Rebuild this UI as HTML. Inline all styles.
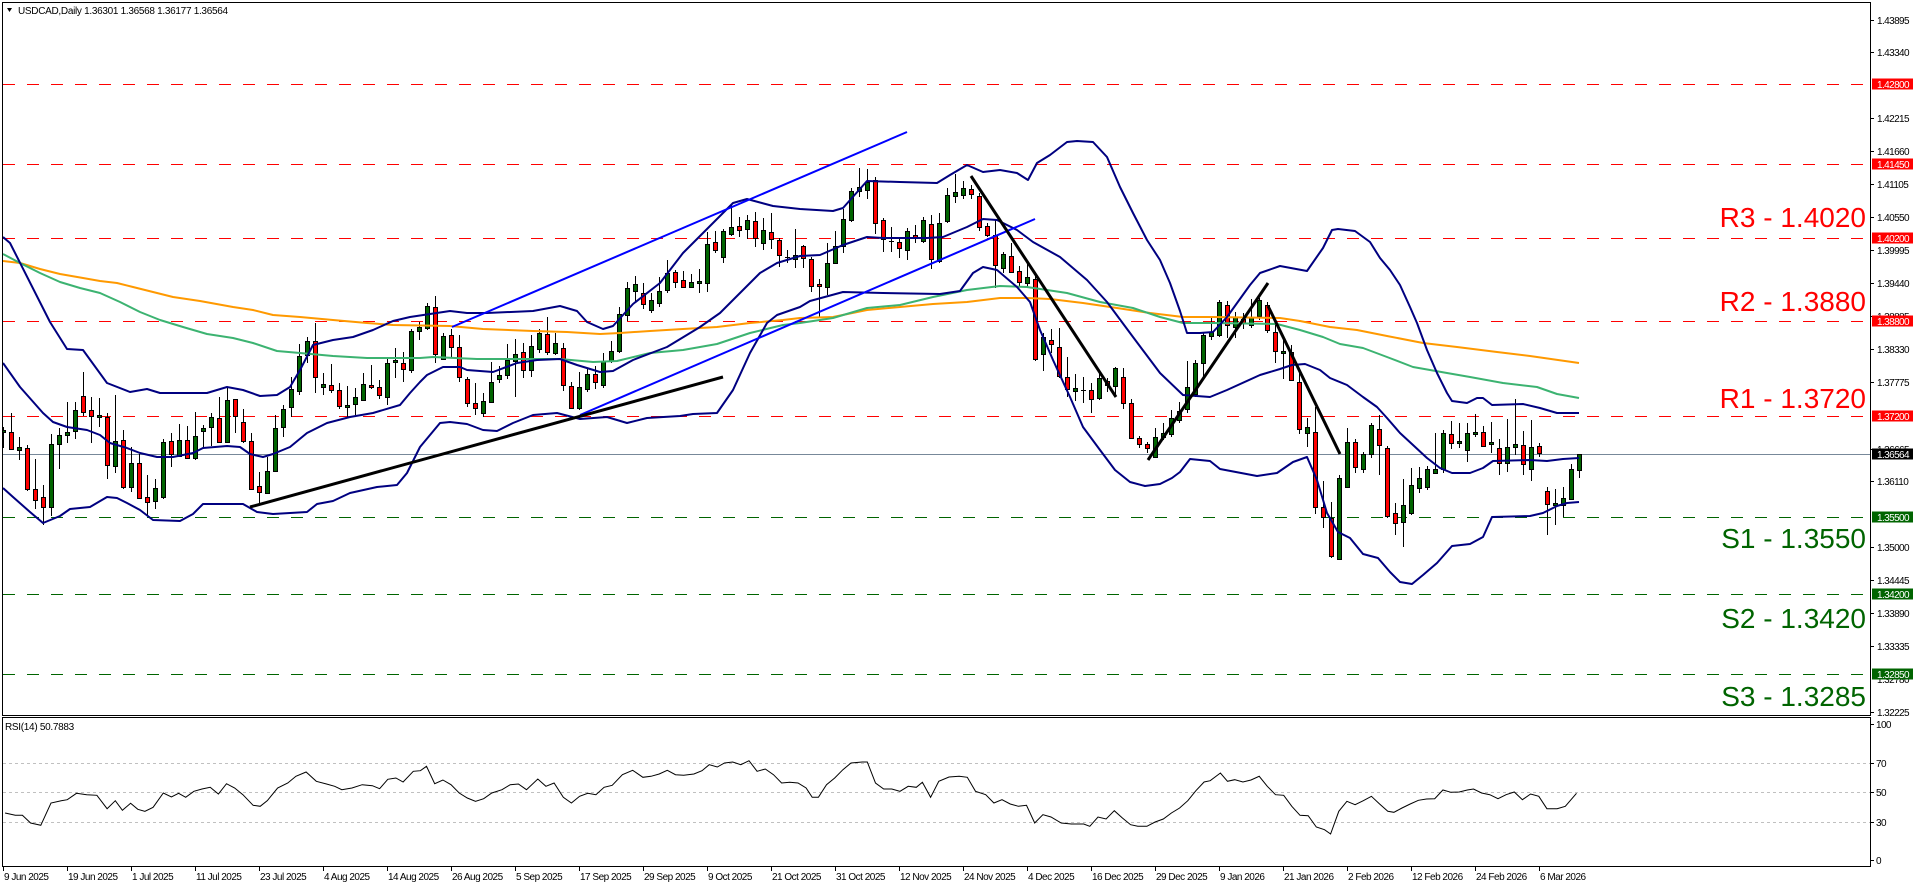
<!DOCTYPE html>
<html><head><meta charset="utf-8"><style>
html,body{margin:0;padding:0;background:#fff;}
svg{display:block;font-family:"Liberation Sans",Arial,sans-serif;}
.ax{font-size:10px;letter-spacing:-0.6px;fill:#000;}
.dt{font-size:10px;letter-spacing:-0.5px;fill:#000;}
.bx{font-size:10px;letter-spacing:-0.6px;fill:#fff;}
.big{font-size:28px;text-anchor:end;}
</style></head><body>
<svg width="1916" height="888" viewBox="0 0 1916 888" xmlns="http://www.w3.org/2000/svg">
<defs><clipPath id="c"><rect x="3" y="3" width="1867" height="712"/></clipPath>
<clipPath id="r"><rect x="3" y="718" width="1867" height="148"/></clipPath></defs>
<rect width="1916" height="888" fill="#fff"/>
<g clip-path="url(#c)">
<g fill="none" stroke-width="1" stroke-dasharray="12 12">
<line x1="3" y1="84.5" x2="1870" y2="84.5" stroke="#ff0000"/>
<line x1="3" y1="164.5" x2="1870" y2="164.5" stroke="#ff0000"/>
<line x1="3" y1="238.5" x2="1870" y2="238.5" stroke="#ff0000"/>
<line x1="3" y1="321.5" x2="1870" y2="321.5" stroke="#ff0000"/>
<line x1="3" y1="416.5" x2="1870" y2="416.5" stroke="#ff0000"/>
<line x1="3" y1="517.5" x2="1870" y2="517.5" stroke="#006400"/>
<line x1="3" y1="594.5" x2="1870" y2="594.5" stroke="#006400"/>
<line x1="3" y1="674.5" x2="1870" y2="674.5" stroke="#006400"/>
</g>
<line x1="3" y1="454.5" x2="1870" y2="454.5" stroke="#778899" stroke-width="1"/>
<path fill="none" stroke="#000" stroke-width="1" d="M3.5 427V448M11.5 413V450M19.5 437V460M27.5 445V491M35.5 459V509M43.5 485V525M51.5 434V516M59.5 428V469M67.5 402V443M75.5 402V439M83.5 372V416M91.5 397V443M99.5 398V427M107.5 413V479M115.5 395V473M123.5 430V489M131.5 447V492M139.5 454V499M147.5 475V516M155.5 479V509M163.5 439V499M171.5 433V467M179.5 424V457M187.5 426V459M195.5 412V460M203.5 425V447M211.5 413V446M219.5 397V443M227.5 387V443M235.5 399V433M243.5 409V443M251.5 433V490M259.5 472V503M267.5 457V494M275.5 415V472M283.5 405V437M291.5 377V417M299.5 344V395M307.5 337V363M315.5 323V393M323.5 373V395M331.5 364V393M339.5 383V409M347.5 386V417M355.5 388V415M363.5 373V401M371.5 365V389M379.5 380V399M387.5 359V405M395.5 348V378M403.5 352V382M411.5 329V373M419.5 322V340M427.5 303V330M435.5 296V363M443.5 333V360M451.5 329V357M459.5 335V382M467.5 377V407M475.5 383V415M483.5 393V417M491.5 362V403M499.5 366V383M507.5 344V379M515.5 339V397M523.5 343V378M531.5 335V377M539.5 329V353M547.5 317V355M555.5 333V355M563.5 343V391M571.5 382V409M579.5 372V410M587.5 369V392M595.5 366V389M603.5 353V388M611.5 341V363M619.5 307V353M627.5 282V321M635.5 276V303M643.5 283V309M651.5 293V313M659.5 277V307M667.5 260V293M675.5 270V288M683.5 271V288M691.5 274V288M699.5 269V293M707.5 232V292M715.5 231V253M723.5 229V263M731.5 204V236M739.5 217V237M747.5 215V239M755.5 212V247M763.5 218V250M771.5 213V249M779.5 238V267M787.5 250V263M795.5 229V268M803.5 245V268M811.5 257V292M819.5 279V318M827.5 243V295M835.5 231V264M843.5 209V253M851.5 188V222M859.5 168V197M867.5 169V199M875.5 177V234M883.5 218V252M891.5 227V252M899.5 238V258M907.5 228V260M915.5 225V243M923.5 217V243M931.5 215V269M939.5 213V263M947.5 188V223M955.5 174V203M963.5 181V199M971.5 185V199M979.5 193V231M987.5 223V237M995.5 219V288M1003.5 252V273M1011.5 243V273M1019.5 266V286M1027.5 263V288M1035.5 275V361M1043.5 333V371M1051.5 329V353M1059.5 328V378M1067.5 357V397M1075.5 374V401M1083.5 377V403M1091.5 383V413M1099.5 372V400M1107.5 378V392M1115.5 367V397M1123.5 368V409M1131.5 399V439M1139.5 436V448M1147.5 442V453M1155.5 428V458M1163.5 423V440M1171.5 410V437M1179.5 402V423M1187.5 361V413M1195.5 360V397M1203.5 333V377M1211.5 318V340M1219.5 300V337M1227.5 301V338M1235.5 312V338M1243.5 313V329M1251.5 299V328M1259.5 298V320M1267.5 302V333M1275.5 323V363M1283.5 340V379M1291.5 345V381M1299.5 370V434M1307.5 418V447M1315.5 407V514M1323.5 481V528M1331.5 502V558M1339.5 475V560M1347.5 428V488M1355.5 439V473M1363.5 452V473M1371.5 423V458M1379.5 415V475M1387.5 446V518M1395.5 503V535M1403.5 479V547M1411.5 468V515M1419.5 467V493M1427.5 466V490M1435.5 433V474M1443.5 430V473M1451.5 421V449M1459.5 423V448M1467.5 423V462M1475.5 414V437M1483.5 426V447M1491.5 422V453M1499.5 439V475M1507.5 419V472M1515.5 399V455M1523.5 431V475M1531.5 420V481M1539.5 443V457M1547.5 487V535M1555.5 489V525M1563.5 487V517M1571.5 464V500M1579.5 454V478M785 257.5h5M889 241.5h5M1081 390.5h5"/>
<path fill="#006400" stroke="#000" stroke-width="1" d="M1.5 430.5h4v2h-4zM17.5 447.5h4v3h-4zM49.5 444.5h4v63h-4zM57.5 435.5h4v9h-4zM65.5 432.5h4v3h-4zM73.5 410.5h4v21h-4zM97.5 415.5h4v2h-4zM113.5 441.5h4v25h-4zM129.5 463.5h4v24h-4zM153.5 488.5h4v13h-4zM161.5 442.5h4v55h-4zM177.5 440.5h4v16h-4zM193.5 436.5h4v22h-4zM201.5 428.5h4v3h-4zM209.5 417.5h4v10h-4zM225.5 400.5h4v42h-4zM265.5 471.5h4v22h-4zM273.5 428.5h4v43h-4zM281.5 409.5h4v18h-4zM289.5 389.5h4v18h-4zM297.5 356.5h4v35h-4zM305.5 341.5h4v14h-4zM321.5 384.5h4v3h-4zM345.5 405.5h4v2h-4zM353.5 397.5h4v7h-4zM361.5 384.5h4v16h-4zM385.5 363.5h4v34h-4zM393.5 360.5h4v2h-4zM409.5 331.5h4v39h-4zM417.5 327.5h4v4h-4zM425.5 306.5h4v22h-4zM441.5 336.5h4v23h-4zM481.5 401.5h4v12h-4zM489.5 382.5h4v20h-4zM497.5 375.5h4v4h-4zM505.5 360.5h4v15h-4zM513.5 354.5h4v7h-4zM529.5 346.5h4v24h-4zM537.5 333.5h4v16h-4zM553.5 343.5h4v10h-4zM577.5 387.5h4v21h-4zM585.5 374.5h4v15h-4zM601.5 361.5h4v24h-4zM609.5 351.5h4v10h-4zM617.5 314.5h4v37h-4zM625.5 288.5h4v27h-4zM633.5 284.5h4v7h-4zM649.5 300.5h4v10h-4zM657.5 291.5h4v12h-4zM665.5 273.5h4v17h-4zM689.5 282.5h4v5h-4zM697.5 281.5h4v2h-4zM705.5 244.5h4v39h-4zM721.5 231.5h4v26h-4zM729.5 227.5h4v7h-4zM745.5 220.5h4v9h-4zM761.5 230.5h4v13h-4zM793.5 255.5h4v4h-4zM825.5 263.5h4v24h-4zM833.5 246.5h4v17h-4zM841.5 219.5h4v27h-4zM849.5 191.5h4v29h-4zM857.5 187.5h4v4h-4zM865.5 182.5h4v8h-4zM905.5 231.5h4v19h-4zM921.5 220.5h4v21h-4zM937.5 223.5h4v38h-4zM945.5 195.5h4v26h-4zM953.5 192.5h4v4h-4zM961.5 188.5h4v7h-4zM1001.5 254.5h4v14h-4zM1025.5 277.5h4v6h-4zM1041.5 337.5h4v17h-4zM1073.5 388.5h4v3h-4zM1097.5 378.5h4v20h-4zM1113.5 368.5h4v18h-4zM1153.5 437.5h4v20h-4zM1161.5 433.5h4v4h-4zM1169.5 418.5h4v16h-4zM1177.5 411.5h4v9h-4zM1185.5 387.5h4v22h-4zM1193.5 363.5h4v31h-4zM1201.5 335.5h4v28h-4zM1209.5 332.5h4v4h-4zM1217.5 302.5h4v33h-4zM1233.5 317.5h4v10h-4zM1249.5 317.5h4v8h-4zM1257.5 300.5h4v16h-4zM1281.5 351.5h4v2h-4zM1305.5 427.5h4v6h-4zM1337.5 478.5h4v81h-4zM1345.5 442.5h4v45h-4zM1361.5 454.5h4v15h-4zM1369.5 425.5h4v29h-4zM1401.5 505.5h4v17h-4zM1409.5 485.5h4v28h-4zM1417.5 478.5h4v10h-4zM1425.5 469.5h4v18h-4zM1433.5 469.5h4v4h-4zM1441.5 433.5h4v36h-4zM1457.5 441.5h4v2h-4zM1465.5 433.5h4v17h-4zM1473.5 432.5h4v2h-4zM1489.5 442.5h4v2h-4zM1505.5 447.5h4v16h-4zM1513.5 444.5h4v3h-4zM1529.5 447.5h4v22h-4zM1553.5 503.5h4v2h-4zM1561.5 498.5h4v7h-4zM1569.5 469.5h4v30h-4zM1577.5 454.5h4v16h-4z"/>
<path fill="#ff0000" stroke="#000" stroke-width="1" d="M9.5 432.5h4v17h-4zM25.5 448.5h4v41h-4zM33.5 489.5h4v11h-4zM41.5 497.5h4v10h-4zM81.5 396.5h4v16h-4zM89.5 410.5h4v6h-4zM105.5 417.5h4v48h-4zM121.5 440.5h4v47h-4zM137.5 463.5h4v35h-4zM145.5 497.5h4v5h-4zM169.5 441.5h4v13h-4zM185.5 440.5h4v18h-4zM217.5 418.5h4v24h-4zM233.5 399.5h4v17h-4zM241.5 422.5h4v19h-4zM249.5 441.5h4v48h-4zM257.5 486.5h4v6h-4zM313.5 341.5h4v36h-4zM329.5 385.5h4v5h-4zM337.5 390.5h4v16h-4zM369.5 385.5h4v2h-4zM377.5 387.5h4v8h-4zM401.5 363.5h4v6h-4zM433.5 307.5h4v47h-4zM449.5 335.5h4v12h-4zM457.5 347.5h4v30h-4zM465.5 379.5h4v24h-4zM473.5 403.5h4v5h-4zM521.5 352.5h4v18h-4zM545.5 334.5h4v18h-4zM561.5 348.5h4v37h-4zM569.5 386.5h4v22h-4zM593.5 374.5h4v8h-4zM641.5 293.5h4v11h-4zM673.5 272.5h4v10h-4zM681.5 280.5h4v7h-4zM713.5 242.5h4v8h-4zM737.5 226.5h4v4h-4zM753.5 221.5h4v17h-4zM769.5 232.5h4v7h-4zM777.5 240.5h4v15h-4zM801.5 246.5h4v12h-4zM809.5 259.5h4v27h-4zM817.5 284.5h4v2h-4zM873.5 180.5h4v43h-4zM881.5 220.5h4v19h-4zM897.5 242.5h4v6h-4zM913.5 235.5h4v2h-4zM929.5 224.5h4v35h-4zM969.5 189.5h4v5h-4zM977.5 196.5h4v31h-4zM985.5 226.5h4v9h-4zM993.5 235.5h4v30h-4zM1009.5 256.5h4v16h-4zM1017.5 271.5h4v11h-4zM1033.5 279.5h4v80h-4zM1049.5 340.5h4v4h-4zM1057.5 347.5h4v29h-4zM1065.5 377.5h4v12h-4zM1089.5 390.5h4v9h-4zM1105.5 381.5h4v4h-4zM1121.5 377.5h4v26h-4zM1129.5 403.5h4v35h-4zM1137.5 438.5h4v6h-4zM1145.5 444.5h4v4h-4zM1225.5 305.5h4v20h-4zM1241.5 319.5h4v4h-4zM1265.5 305.5h4v25h-4zM1273.5 332.5h4v19h-4zM1289.5 352.5h4v28h-4zM1297.5 382.5h4v47h-4zM1313.5 432.5h4v75h-4zM1321.5 507.5h4v10h-4zM1329.5 518.5h4v38h-4zM1353.5 442.5h4v25h-4zM1377.5 429.5h4v16h-4zM1385.5 448.5h4v68h-4zM1393.5 513.5h4v10h-4zM1449.5 434.5h4v9h-4zM1481.5 432.5h4v14h-4zM1497.5 448.5h4v15h-4zM1521.5 445.5h4v19h-4zM1537.5 446.5h4v7h-4zM1545.5 491.5h4v13h-4z"/>
<g fill="none" stroke-width="2" stroke-linejoin="round">
<polyline stroke="#ff9900" points="3,261 20,263 40,269 60,274 83,278 100,281 117,283 133,287 153,292 173,297 200,301 233,307 253,310 273,315 300,317 333,320 367,323 393,325 450,326 483,329 533,331 567,332 600,334 620,333 650,331 683,329 717,327 750,323 783,320 800,318 833,317 867,310 900,307 933,304 967,302 1000,298 1027,298 1050,299 1083,303 1117,308 1150,313 1183,317 1213,317 1280,318 1300,321 1330,327 1357,330 1387,336 1423,343 1457,347 1497,352 1530,356 1579,363"/>
<polyline stroke="#3cb371" points="3,254 20,263 40,273 60,282 80,288 100,293 120,302 140,312 160,320 183,327 207,334 233,338 253,343 277,351 300,353 333,356 367,358 420,358 433,357 477,359 560,359 593,362 617,361 650,353 683,350 717,344 750,333 783,325 800,323 833,318 867,308 900,305 933,297 967,290 1000,286 1027,287 1067,293 1100,302 1133,308 1160,317 1183,323 1213,323 1277,324 1300,330 1323,337 1340,344 1363,348 1387,357 1413,367 1447,373 1470,377 1503,383 1537,387 1557,394 1579,398"/>
<polyline stroke="#000080" points="3,237 10,243 50,322 67,349 83,350 107,383 130,392 147,389 160,393 207,393 227,387 243,390 260,396 277,395 290,387 300,370 313,345 333,340 353,337 373,330 393,321 410,317 450,311 467,313 487,313 533,311 560,306 577,311 587,322 603,329 613,326 633,304 660,283 683,253 713,223 733,203 747,199 773,206 800,209 833,211 843,208 867,181 900,182 937,183 950,175 967,165 983,172 1000,170 1017,173 1028,180 1037,163 1050,155 1067,142 1077,141 1093,142 1107,157 1120,187 1133,213 1147,240 1160,260 1170,283 1180,311 1187,333 1200,333 1213,332 1227,317 1250,285 1260,273 1280,266 1307,271 1323,248 1332,230 1338,229 1355,231 1370,242 1380,258 1390,270 1400,285 1410,307 1417,323 1427,350 1437,373 1447,393 1452,401 1467,403 1477,398 1483,398 1492,405 1523,404 1540,408 1557,413 1579,413"/>
<polyline stroke="#000080" points="3,363 20,387 43,413 53,422 67,427 87,430 100,435 110,443 127,448 140,453 157,457 173,457 193,453 203,448 227,446 240,447 250,454 263,457 273,454 290,447 307,433 327,423 350,417 373,413 400,405 410,393 420,382 427,375 443,367 460,367 467,370 493,372 517,363 537,360 560,359 577,365 600,372 613,371 633,360 667,347 700,327 720,313 740,293 760,273 777,263 800,256 820,255 843,245 867,237 883,238 927,238 943,237 967,227 983,219 997,220 1017,230 1033,242 1060,257 1087,280 1107,302 1133,337 1160,373 1183,395 1210,397 1227,390 1260,375 1280,369 1292,365 1305,364 1320,370 1330,378 1347,385 1363,397 1377,407 1387,418 1400,433 1413,445 1427,458 1440,468 1452,473 1470,473 1483,468 1493,461 1530,460 1547,461 1563,459 1579,458"/>
<polyline stroke="#000080" points="3,488 13,497 30,512 43,523 60,516 70,509 90,507 107,497 117,498 127,503 140,510 153,520 180,521 193,514 203,504 243,504 257,512 273,514 290,513 307,512 317,504 333,501 350,493 377,487 397,485 407,473 420,447 440,423 450,422 467,424 483,430 497,431 513,423 533,415 557,413 580,419 607,417 627,423 647,418 680,416 693,414 717,413 733,390 750,353 767,323 777,315 800,307 810,301 843,292 883,293 940,294 960,291 973,273 983,267 997,270 1017,287 1030,302 1040,330 1053,360 1070,397 1083,427 1100,450 1115,470 1130,482 1145,486 1160,484 1172,478 1180,472 1190,459 1210,461 1220,469 1257,476 1277,473 1293,462 1307,457 1317,480 1327,513 1338,532 1350,538 1363,554 1378,558 1390,572 1400,582 1412,584 1423,575 1437,563 1452,546 1470,544 1483,537 1492,517 1530,516 1543,513 1557,506 1567,503 1579,502"/>
<line x1="452" y1="327" x2="907" y2="132" stroke="#0000ff"/>
<line x1="580" y1="415" x2="1035" y2="219" stroke="#0000ff"/>
</g>
<g stroke="#000" stroke-width="3" stroke-linecap="butt">
<line x1="250" y1="507" x2="723" y2="377"/>
<line x1="971" y1="176" x2="1116" y2="397"/>
<line x1="1148" y1="460" x2="1268" y2="283"/>
<line x1="1268" y1="306" x2="1340" y2="454"/>
</g>
</g>
<!-- big labels -->
<g class="big">
<text x="1866" y="227" fill="#ff0000">R3 - 1.4020</text>
<text x="1866" y="311" fill="#ff0000">R2 - 1.3880</text>
<text x="1866" y="408" fill="#ff0000">R1 - 1.3720</text>
<text x="1866" y="548" fill="#006400">S1 - 1.3550</text>
<text x="1866" y="628" fill="#006400">S2 - 1.3420</text>
<text x="1866" y="706" fill="#006400">S3 - 1.3285</text>
</g>
<!-- title -->
<polygon points="7,8 12,8 9.5,12" fill="#000"/>
<text x="18" y="14" style="font-size:10px;letter-spacing:-0.3px" fill="#000">USDCAD,Daily  1.36301 1.36568 1.36177 1.36564</text>
<!-- frames -->
<rect x="2.5" y="2.5" width="1868" height="713" fill="none" stroke="#000" stroke-width="1"/>
<rect x="2.5" y="717.5" width="1868" height="149" fill="none" stroke="#000" stroke-width="1"/>
<!-- price axis ticks -->
<path stroke="#000" stroke-width="1" d="M1870 20.5h4M1870 52.5h4M1870 118.5h4M1870 151.5h4M1870 184.5h4M1870 217.5h4M1870 250.5h4M1870 283.5h4M1870 316.5h4M1870 349.5h4M1870 382.5h4M1870 449.5h4M1870 481.5h4M1870 547.5h4M1870 580.5h4M1870 613.5h4M1870 646.5h4M1870 712.5h4M1870 724.5h4M1870 763.5h4M1870 792.5h4M1870 822.5h4M1870 860.5h4"/>
<g class="ax">
<text x="1877" y="24">1.43895</text>
<text x="1877" y="56">1.43340</text>
<text x="1877" y="122">1.42215</text>
<text x="1877" y="155">1.41660</text>
<text x="1877" y="188">1.41105</text>
<text x="1877" y="221">1.40550</text>
<text x="1877" y="254">1.39995</text>
<text x="1877" y="287">1.39440</text>
<text x="1877" y="320">1.38885</text>
<text x="1877" y="353">1.38330</text>
<text x="1877" y="386">1.37775</text>
<text x="1877" y="453">1.36665</text>
<text x="1877" y="485">1.36110</text>
<text x="1877" y="551">1.35000</text>
<text x="1877" y="584">1.34445</text>
<text x="1877" y="617">1.33890</text>
<text x="1877" y="650">1.33335</text>
<text x="1877" y="683">1.32780</text>
<text x="1877" y="716">1.32225</text>
<text x="1876" y="728">100</text>
<text x="1876" y="767">70</text>
<text x="1876" y="796">50</text>
<text x="1876" y="826">30</text>
<text x="1876" y="864">0</text>
</g>
<!-- price boxes -->
<rect x="1872" y="78.5" width="41" height="11" fill="#ff0000"/>
<rect x="1872" y="158.5" width="41" height="11" fill="#ff0000"/>
<rect x="1872" y="232.5" width="41" height="11" fill="#ff0000"/>
<rect x="1872" y="315.5" width="41" height="11" fill="#ff0000"/>
<rect x="1872" y="410.5" width="41" height="11" fill="#ff0000"/>
<rect x="1872" y="448.5" width="41" height="11" fill="#000"/>
<rect x="1872" y="511.5" width="41" height="11" fill="#006400"/>
<rect x="1872" y="588.5" width="41" height="11" fill="#006400"/>
<rect x="1872" y="668.5" width="41" height="11" fill="#006400"/>
<g class="bx">
<text x="1877" y="88">1.42800</text>
<text x="1877" y="168">1.41450</text>
<text x="1877" y="242">1.40200</text>
<text x="1877" y="325">1.38800</text>
<text x="1877" y="420">1.37200</text>
<text x="1877" y="458">1.36564</text>
<text x="1877" y="521">1.35500</text>
<text x="1877" y="598">1.34200</text>
<text x="1877" y="678">1.32850</text>
</g>
<!-- RSI -->
<g clip-path="url(#r)">
<g stroke="#c0c0c0" stroke-width="1" stroke-dasharray="3 3">
<line x1="3" y1="763.5" x2="1870" y2="763.5"/>
<line x1="3" y1="792.5" x2="1870" y2="792.5"/>
<line x1="3" y1="822.5" x2="1870" y2="822.5"/>
</g>
<polyline fill="none" stroke="#000" stroke-width="1" points="5.1,813 15.3,815.3 22.4,815.3 30.6,823 40.8,825.3 51,803 61.2,800.7 67.3,799.7 76.5,793.3 86.7,794.7 96.9,795.3 107.1,808.7 115.3,800.7 122.4,810.3 130.6,803.3 137.8,809.3 144.9,811.3 153.1,807.3 163.3,793 171.4,797 178.6,793.3 185.7,797.3 193.9,791.3 202,789 210.2,787.3 218.4,794 226.5,783.7 234.7,788 242.9,794.7 253.1,805.3 260.2,806.3 267.3,800.7 277.6,788 287.8,783 295.9,776.3 306.1,772 316.3,781.3 326.5,784 334.7,786.3 341.8,789.7 352,788 362.2,784.7 372.4,785.7 379.6,788.7 387.8,779.3 395.9,778 403.1,782 413.3,771.3 420.4,770.7 426.5,766.3 434.7,783.7 442.9,780 451,784.7 459.2,793 467.3,798 475.5,801.3 483.7,798.7 491.8,793 502,789.7 510.2,784.7 518.4,784 526.5,789.7 537.8,779 545.9,786.3 554.1,783 563.3,797.3 571.4,803 579.6,796.3 587.8,793.3 595.9,794.7 604.1,787.3 612.2,785.3 622.4,774.7 632.7,770.3 642.9,777.3 651,776.3 659.2,774 667.3,770.3 675.5,774.7 683.7,775.3 693.9,774 702,770.7 709.2,764.7 717.3,767 724.5,763 732.7,762 740.8,764.7 749,760.7 757.1,771.3 765.3,769 773.5,774.7 781.6,783 789.8,782.3 798,783 806.1,788 812.2,797.3 818.4,797.3 826.5,784.7 834.7,778 842.9,769.7 851,763 862.2,762 867.3,762 875.5,783 883.7,789 891.8,789 900,791.3 908.2,786.3 916.3,787.3 922.4,782.3 930.6,797.3 938.8,781.3 949,777 959.2,776.3 967.3,777.3 975.5,791.3 985.7,794.7 993.9,803 1002,799.7 1010.2,804 1018.4,806.3 1026.5,805.3 1034.7,823 1042.9,814.7 1051,817 1061.2,823 1071.4,824 1083.7,824 1089.8,826.3 1098,817 1106.1,819 1114.3,810.7 1122.4,818 1130.6,824.7 1137.8,826.3 1146.9,826.3 1155.1,822 1163.3,819 1171.4,813 1179.6,808 1187.8,800.7 1195.9,790.7 1204.1,782 1210.2,780.7 1220.4,773 1227.5,781.3 1234.7,779.7 1242.9,782 1251,780 1259.2,776.3 1267.3,786.3 1275.5,794.7 1283.7,795.3 1291.8,806.3 1300,815.3 1308.2,815.7 1316.3,827 1324.5,829.7 1330.6,834 1338.8,811.3 1346.9,801.3 1355.1,804.7 1363.3,800.7 1371.4,796.3 1379.6,804 1387.8,811.3 1393.9,812.3 1402,808 1410.2,804 1418.4,800.3 1426.5,799 1434.7,798.7 1442.9,790 1451,792.3 1459.2,792 1467.3,790 1473.5,789 1481.6,793 1489.8,794.7 1498,798.7 1506.1,794.7 1514.3,792 1522.4,799.7 1530.6,794 1538.8,796.3 1546.9,808.7 1557.1,808.7 1565.3,806.3 1576.5,793.3"/>
</g>
<text x="5" y="730" style="font-size:10px;letter-spacing:-0.3px" fill="#000">RSI(14) 50.7883</text>
<!-- date axis -->
<path stroke="#000" stroke-width="1" d="M3.5 867v4M67.5 867v4M131.5 867v4M195.5 867v4M259.5 867v4M323.5 867v4M387.5 867v4M451.5 867v4M515.5 867v4M579.5 867v4M643.5 867v4M707.5 867v4M771.5 867v4M835.5 867v4M899.5 867v4M963.5 867v4M1027.5 867v4M1091.5 867v4M1155.5 867v4M1219.5 867v4M1283.5 867v4M1347.5 867v4M1411.5 867v4M1475.5 867v4M1539.5 867v4"/>
<g class="dt">
<text x="4" y="880">9 Jun 2025</text>
<text x="68" y="880">19 Jun 2025</text>
<text x="132" y="880">1 Jul 2025</text>
<text x="196" y="880">11 Jul 2025</text>
<text x="260" y="880">23 Jul 2025</text>
<text x="324" y="880">4 Aug 2025</text>
<text x="388" y="880">14 Aug 2025</text>
<text x="452" y="880">26 Aug 2025</text>
<text x="516" y="880">5 Sep 2025</text>
<text x="580" y="880">17 Sep 2025</text>
<text x="644" y="880">29 Sep 2025</text>
<text x="708" y="880">9 Oct 2025</text>
<text x="772" y="880">21 Oct 2025</text>
<text x="836" y="880">31 Oct 2025</text>
<text x="900" y="880">12 Nov 2025</text>
<text x="964" y="880">24 Nov 2025</text>
<text x="1028" y="880">4 Dec 2025</text>
<text x="1092" y="880">16 Dec 2025</text>
<text x="1156" y="880">29 Dec 2025</text>
<text x="1220" y="880">9 Jan 2026</text>
<text x="1284" y="880">21 Jan 2026</text>
<text x="1348" y="880">2 Feb 2026</text>
<text x="1412" y="880">12 Feb 2026</text>
<text x="1476" y="880">24 Feb 2026</text>
<text x="1540" y="880">6 Mar 2026</text>
</g>
</svg>
</body></html>
